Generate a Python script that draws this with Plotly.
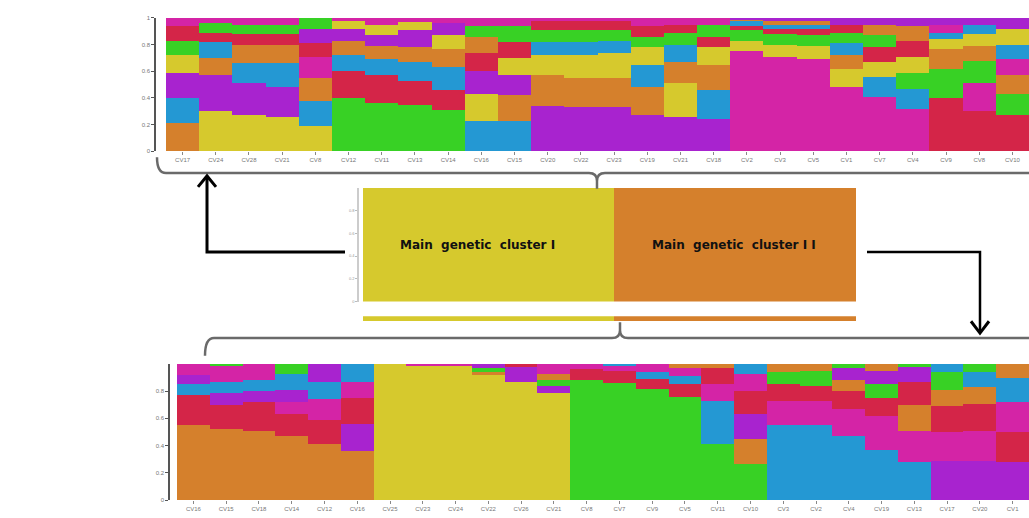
import plotly.graph_objects as go

W, H = 1029, 518

# Cluster colours (K = 7)
COLORS = {"O": "#D5802C", "B": "#2498D3", "P": "#A823CF", "Y": "#D6C92D",
          "G": "#38D125", "R": "#D42548", "M": "#D424A6"}

# ---- Upper panel: main genetic cluster I ----
top_labels = ["CV17", "CV24", "CV28", "CV21", "CV8", "CV12", "CV11", "CV13", "CV14",
              "CV16", "CV15", "CV20", "CV22", "CV23", "CV19", "CV21", "CV18", "CV2",
              "CV3", "CV5", "CV1", "CV7", "CV4", "CV9", "CV8", "CV10"]
top_orange = [.21, .13, .14, .14, .17, .11, .10, .11, .14, .12, .19, .23, .22, .22, .21, .16, .19, .01, .03, .03, .10, .08, .11, .15, .11, .14]
top_blue = [.19, .12, .15, .18, .19, .12, .12, .14, .17, .23, .23, .10, .10, .09, .17, .13, .22, .04, .03, .03, .09, .15, .15, .05, .07, .11]
top_purple = [.19, .27, .24, .22, .11, .09, .08, .13, .09, .17, .15, .34, .33, .33, .27, .26, .24, .01, .02, .02, .05, .05, .06, .05, .05, .08]
top_yellow = [.13, .30, .27, .26, .19, .06, .08, .06, .10, .20, .13, .15, .17, .19, .13, .25, .13, .08, .09, .10, .14, .11, .12, .07, .09, .12]
top_green = [.11, .07, .07, .07, .08, .40, .36, .35, .31, .08, .12, .09, .09, .08, .08, .09, .09, .08, .08, .08, .08, .09, .12, .22, .17, .16]
top_red = [.11, .07, .08, .08, .10, .20, .21, .18, .15, .14, .12, .07, .07, .07, .08, .06, .08, .03, .04, .05, .06, .11, .12, .40, .30, .27]
top_magenta = [.06, .04, .05, .05, .16, .02, .05, .03, .04, .06, .06, .02, .02, .02, .06, .05, .05, .75, .71, .69, .48, .41, .32, .06, .21, .12]
top_order = ["OBPYGRM", "YPOBRGM", "YPBORGM", "YPBORGM", "YBOMRPG", "GRBOPYM", "GRBOPYM",
             "GRBOPYM", "GRBOYPM", "BYPROGM", "BOPYRGM", "POYBGRM", "POYBGRM", "POYBGRM",
             "POBYGRM", "PYOBGRM", "PBOYRGM", "MYGRBOP", "MYGRBOP", "MYGRBOP", "MYOBGRP",
             "MBYRGOP", "MBGYROP", "RGOYBMP", "RMGOYBP", "RGOMBYP"]

# ---- Lower panel: main genetic cluster II ----
bot_labels = ["CV16", "CV15", "CV18", "CV14", "CV12", "CV16", "CV25", "CV23", "CV24",
              "CV22", "CV26", "CV21", "CV8", "CV7", "CV9", "CV5", "CV11", "CV10", "CV3",
              "CV2", "CV4", "CV19", "CV13", "CV17", "CV20", "CV1"]
bot_orange = [.55, .52, .51, .47, .41, .36, 0, 0, 0, .02, 0, .05, 0, 0, 0, .03, .03, .18, .06, .05, .08, .05, .19, .12, .12, .10]
bot_blue = [.08, .08, .08, .12, .13, .13, 0, 0, 0, 0, 0, 0, 0, .01, .05, .06, .32, .07, .55, .55, .47, .37, .28, .06, .11, .18]
bot_purple = [.07, .09, .08, .09, .13, .20, 0, 0, 0, .03, .11, .05, 0, 0, 0, 0, 0, .18, 0, 0, .09, .10, .11, .29, .29, .28]
bot_yellow = [0, 0, 0, 0, 0, 0, 1.0, .99, .99, .92, .87, .79, 0, 0, 0, 0, 0, 0, 0, 0, 0, 0, 0, 0, 0, 0]
bot_green = [0, .01, 0, .07, 0, 0, 0, 0, 0, .03, 0, .04, .88, .86, .82, .76, .41, .27, .09, .11, .03, .10, .02, .13, .06, 0]
bot_red = [.22, .18, .21, .16, .18, .19, 0, 0, 0, 0, .02, 0, .08, .09, .07, .09, .12, .17, .12, .11, .13, .13, .17, .19, .20, .22]
bot_magenta = [.08, .12, .12, .09, .15, .12, 0, .01, .01, 0, 0, .07, .04, .04, .06, .06, .12, .13, .18, .18, .20, .25, .23, .21, .22, .22]
bot_order = ["ORBPM", "ORPBMG", "ORPBM", "ORMPBG", "ORMBP", "OPRMB", "Y", "YM", "YM", "YOGP",
             "YPR", "YPGOM", "GRM", "GRMB", "GRBM", "GRBMO", "GBMRO", "GOPRMB", "BMRGO",
             "BMRGO", "BMROPG", "BMRGPO", "BMORPG", "PMROGB", "PMROBG", "PRMBO"]

# ---- Middle panel: two main genetic clusters (K = 2) ----
main_names = ["Main  genetic  cluster I", "Main  genetic  cluster I I"]
main_share = [0.51, 0.49]
main_colors = ["#D6C92D", "#D5802C"]


def fx(px):
    return px / W


def fy(py):
    return 1 - py / H


def stacked_traces(order, values, xa, ya):
    """One trace per stacking position; each bar keeps its own colour order."""
    traces = []
    n = len(order)
    depth = max(len(o) for o in order)
    for k in range(depth):
        ys, cs = [], []
        for i in range(n):
            if k < len(order[i]):
                key = order[i][k]
                ys.append(values[key][i])
                cs.append(COLORS[key])
            else:
                ys.append(0)
                cs.append("#ffffff")
        traces.append(go.Bar(x=list(range(n)), y=ys, marker=dict(color=cs, line=dict(width=0)),
                             xaxis=xa, yaxis=ya, showlegend=False, hoverinfo="y"))
    return traces


top_vals = {"O": top_orange, "B": top_blue, "P": top_purple, "Y": top_yellow,
            "G": top_green, "R": top_red, "M": top_magenta}
bot_vals = {"O": bot_orange, "B": bot_blue, "P": bot_purple, "Y": bot_yellow,
            "G": bot_green, "R": bot_red, "M": bot_magenta}

fig = go.Figure()
for t in stacked_traces(top_order, top_vals, "x", "y"):
    fig.add_trace(t)
for t in stacked_traces(bot_order, bot_vals, "x2", "y2"):
    fig.add_trace(t)

# Middle bar and the thin strip below it
centers, acc = [], 0.0
for s in main_share:
    centers.append(acc + s / 2)
    acc += s
fig.add_trace(go.Bar(x=centers, y=[1] * len(main_share), width=main_share,
                     marker=dict(color=main_colors, line=dict(width=0)),
                     xaxis="x3", yaxis="y3", showlegend=False, hoverinfo="x"))
fig.add_trace(go.Bar(x=centers, y=[1] * len(main_share), width=main_share,
                     marker=dict(color=main_colors, line=dict(width=0)),
                     xaxis="x4", yaxis="y4", showlegend=False, hoverinfo="x"))

tickfont = dict(family="Arial", size=6, color="#777")

fig.update_layout(
    width=W, height=H, margin=dict(l=0, r=0, t=0, b=0),
    paper_bgcolor="white", plot_bgcolor="white",
    barmode="stack", bargap=0,
    xaxis=dict(domain=[fx(166), 1.0], range=[-0.5, 25.5], anchor="y",
               tickvals=list(range(26)), ticktext=top_labels, tickfont=tickfont,
               ticks="outside", ticklen=3, tickcolor="#888", showline=False,
               showgrid=False, zeroline=False, fixedrange=True),
    yaxis=dict(domain=[fy(150), fy(15)], range=[0, 1], anchor="free", position=fx(155),
               tickvals=[0, 0.2, 0.4, 0.6, 0.8, 1], ticktext=["0", "0.2", "0.4", "0.6", "0.8", "1"],
               tickfont=tickfont, ticks="outside", ticklen=3, tickcolor="#555",
               showline=True, linecolor="#555", linewidth=1.5,
               showgrid=False, zeroline=False),
    xaxis2=dict(domain=[fx(177), 1.0], range=[-0.5, 25.5], anchor="y2",
                tickvals=list(range(26)), ticktext=bot_labels, tickfont=tickfont,
                ticks="outside", ticklen=3, tickcolor="#888", showline=False,
                showgrid=False, zeroline=False),
    yaxis2=dict(domain=[fy(503), fy(365)], range=[0, 1], anchor="free", position=fx(169),
                tickvals=[0, 0.2, 0.4, 0.6, 0.8], ticktext=["0", "0.2", "0.4", "0.6", "0.8"],
                tickfont=tickfont, ticks="outside", ticklen=3, tickcolor="#555",
                showline=True, linecolor="#555", linewidth=1.5,
                showgrid=False, zeroline=False),
    xaxis3=dict(domain=[fx(363), fx(856)], range=[0, 1], anchor="y3", visible=False),
    yaxis3=dict(domain=[fy(302), fy(187)], range=[0, 1], anchor="free", position=fx(358),
                tickvals=[0, 0.2, 0.4, 0.6, 0.8], ticktext=["0", "0.2", "0.4", "0.6", "0.8"],
                tickfont=dict(family="Arial", size=4, color="#999"),
                ticks="outside", ticklen=2, tickcolor="#bbb",
                showline=True, linecolor="#ccc", linewidth=1.5,
                showgrid=False, zeroline=False),
    xaxis4=dict(domain=[fx(363), fx(856)], range=[0, 1], anchor="y4", visible=False),
    yaxis4=dict(domain=[fy(322), fy(317)], range=[0, 1], anchor="x4", visible=False),
)

# Cluster names on the middle bar
for name, cx, shift in zip(main_names, centers, [-11, -1]):
    fig.add_annotation(x=cx, y=0.5, xref="x3", yref="y3", text="<b>" + name + "</b>",
                       xshift=shift, showarrow=False,
                       font=dict(family="DejaVu Sans", size=12, color="#111"))


def path(points, moves=()):
    """Build an SVG path in paper coordinates from pixel points; 'moves' marks pen-up indices."""
    out = []
    for i, p in enumerate(points):
        if p[0] == "Q":
            _, (cx, cy), (ex, ey) = p
            out.append(f"Q{fx(cx):.5f},{fy(cy):.5f} {fx(ex):.5f},{fy(ey):.5f}")
        else:
            cmd = "M" if i == 0 or i in moves else "L"
            out.append(f"{cmd}{fx(p[0]):.5f},{fy(p[1]):.5f}")
    return " ".join(out)


brace_style = dict(color="#6a6a6a", width=2.5)
# Brace under the upper panel
fig.add_shape(type="path", xref="paper", yref="paper", line=brace_style,
              path=path([(157, 156), ("Q", (157, 172), (166, 172)), (589, 172),
                         ("Q", (597, 172), (597, 180)), (597, 188),
                         (597, 180), ("Q", (597, 172), (605, 172)), (1029, 172)], moves=(5,)))
# Brace above the lower panel
fig.add_shape(type="path", xref="paper", yref="paper", line=brace_style,
              path=path([(205, 357), ("Q", (205, 339), (214, 339)), (612, 339),
                         ("Q", (620, 339), (620, 331)), (620, 323),
                         (620, 331), ("Q", (620, 339), (628, 339)), (1029, 339)], moves=(5,)))

arrow_style = dict(color="#000", width=3)
# Arrow to the upper panel
fig.add_shape(type="path", xref="paper", yref="paper", line=arrow_style,
              path=path([(345, 252), (207, 252), (207, 175)]))
fig.add_shape(type="path", xref="paper", yref="paper", line=arrow_style,
              path=path([(198, 186), (207, 175), (216, 186)]))
# Arrow to the lower panel
fig.add_shape(type="path", xref="paper", yref="paper", line=dict(color="#000", width=2.5),
              path=path([(867, 252), (980, 252), (980, 333)]))
fig.add_shape(type="path", xref="paper", yref="paper", line=arrow_style,
              path=path([(971, 322), (980, 334), (989, 322)]))

fig.write_html("out.html")
